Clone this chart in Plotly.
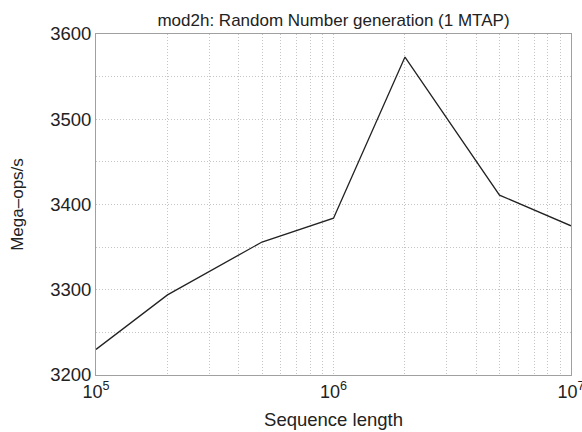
import plotly.graph_objects as go

# Throughput for the mod2h random number generator on one MTAP
seq_length = [1e5, 2e5, 5e5, 1e6, 2e6, 5e6, 1e7]
mega_ops = [3230, 3294, 3356, 3384, 3573, 3411, 3375]

x_tick_vals = [1e5, 1e6, 1e7]
x_tick_text = ["10<sup>5</sup>", "10<sup>6</sup>", "10<sup>7</sup>"]
x_minor_vals = [2e5, 3e5, 4e5, 5e5, 6e5, 7e5, 8e5, 9e5,
                2e6, 3e6, 4e6, 5e6, 6e6, 7e6, 8e6, 9e6]
y_tick_vals = [3200, 3300, 3400, 3500, 3600]
y_minor_vals = [3250, 3350, 3450, 3550]

font_family = "Liberation Sans, Arial, Helvetica, sans-serif"
grid_color = "#c4c4c4"
grid_dash = "1px,2px"

fig = go.Figure()
fig.add_trace(go.Scatter(
    x=seq_length, y=mega_ops, mode="lines",
    line=dict(color="#222222", width=1.3),
    showlegend=False,
))

fig.update_layout(
    width=582, height=432,
    margin=dict(l=96, r=11, t=34, b=57),
    paper_bgcolor="white", plot_bgcolor="white",
    font=dict(family=font_family, color="#222222"),
    title=dict(
        text="mod2h: Random Number generation (1 MTAP)",
        x=0.5, xanchor="center", xref="paper",
        y=1 - 20 / 432, yanchor="middle",
        font=dict(size=17, family=font_family, color="#222222"),
    ),
)

fig.update_xaxes(
    type="log", range=[4.99995, 7.00005], automargin=False,
    tickvals=x_tick_vals, ticktext=x_tick_text,
    tickfont=dict(size=18), ticks="", ticklabeloverflow="allow",
    showgrid=True, gridcolor=grid_color, griddash=grid_dash, gridwidth=1,
    minor=dict(showgrid=True, gridcolor=grid_color, griddash=grid_dash,
               gridwidth=1, tickvals=x_minor_vals),
    showline=True, linecolor="#a0a0a0", linewidth=1, mirror=True,
    zeroline=False,
    title=dict(text="Sequence length", font=dict(size=18.5), standoff=12),
)

fig.update_yaxes(
    range=[3200, 3600], automargin=False,
    tickvals=y_tick_vals, tickfont=dict(size=18.5), ticks="",
    showgrid=True, gridcolor=grid_color, griddash=grid_dash, gridwidth=1,
    minor=dict(showgrid=True, gridcolor=grid_color, griddash=grid_dash,
               gridwidth=1, tickvals=y_minor_vals),
    showline=True, linecolor="#a0a0a0", linewidth=1, mirror=True,
    zeroline=False,
    title=dict(text="Mega–ops/s", font=dict(size=17), standoff=22),
)

fig.write_html("out.html")
